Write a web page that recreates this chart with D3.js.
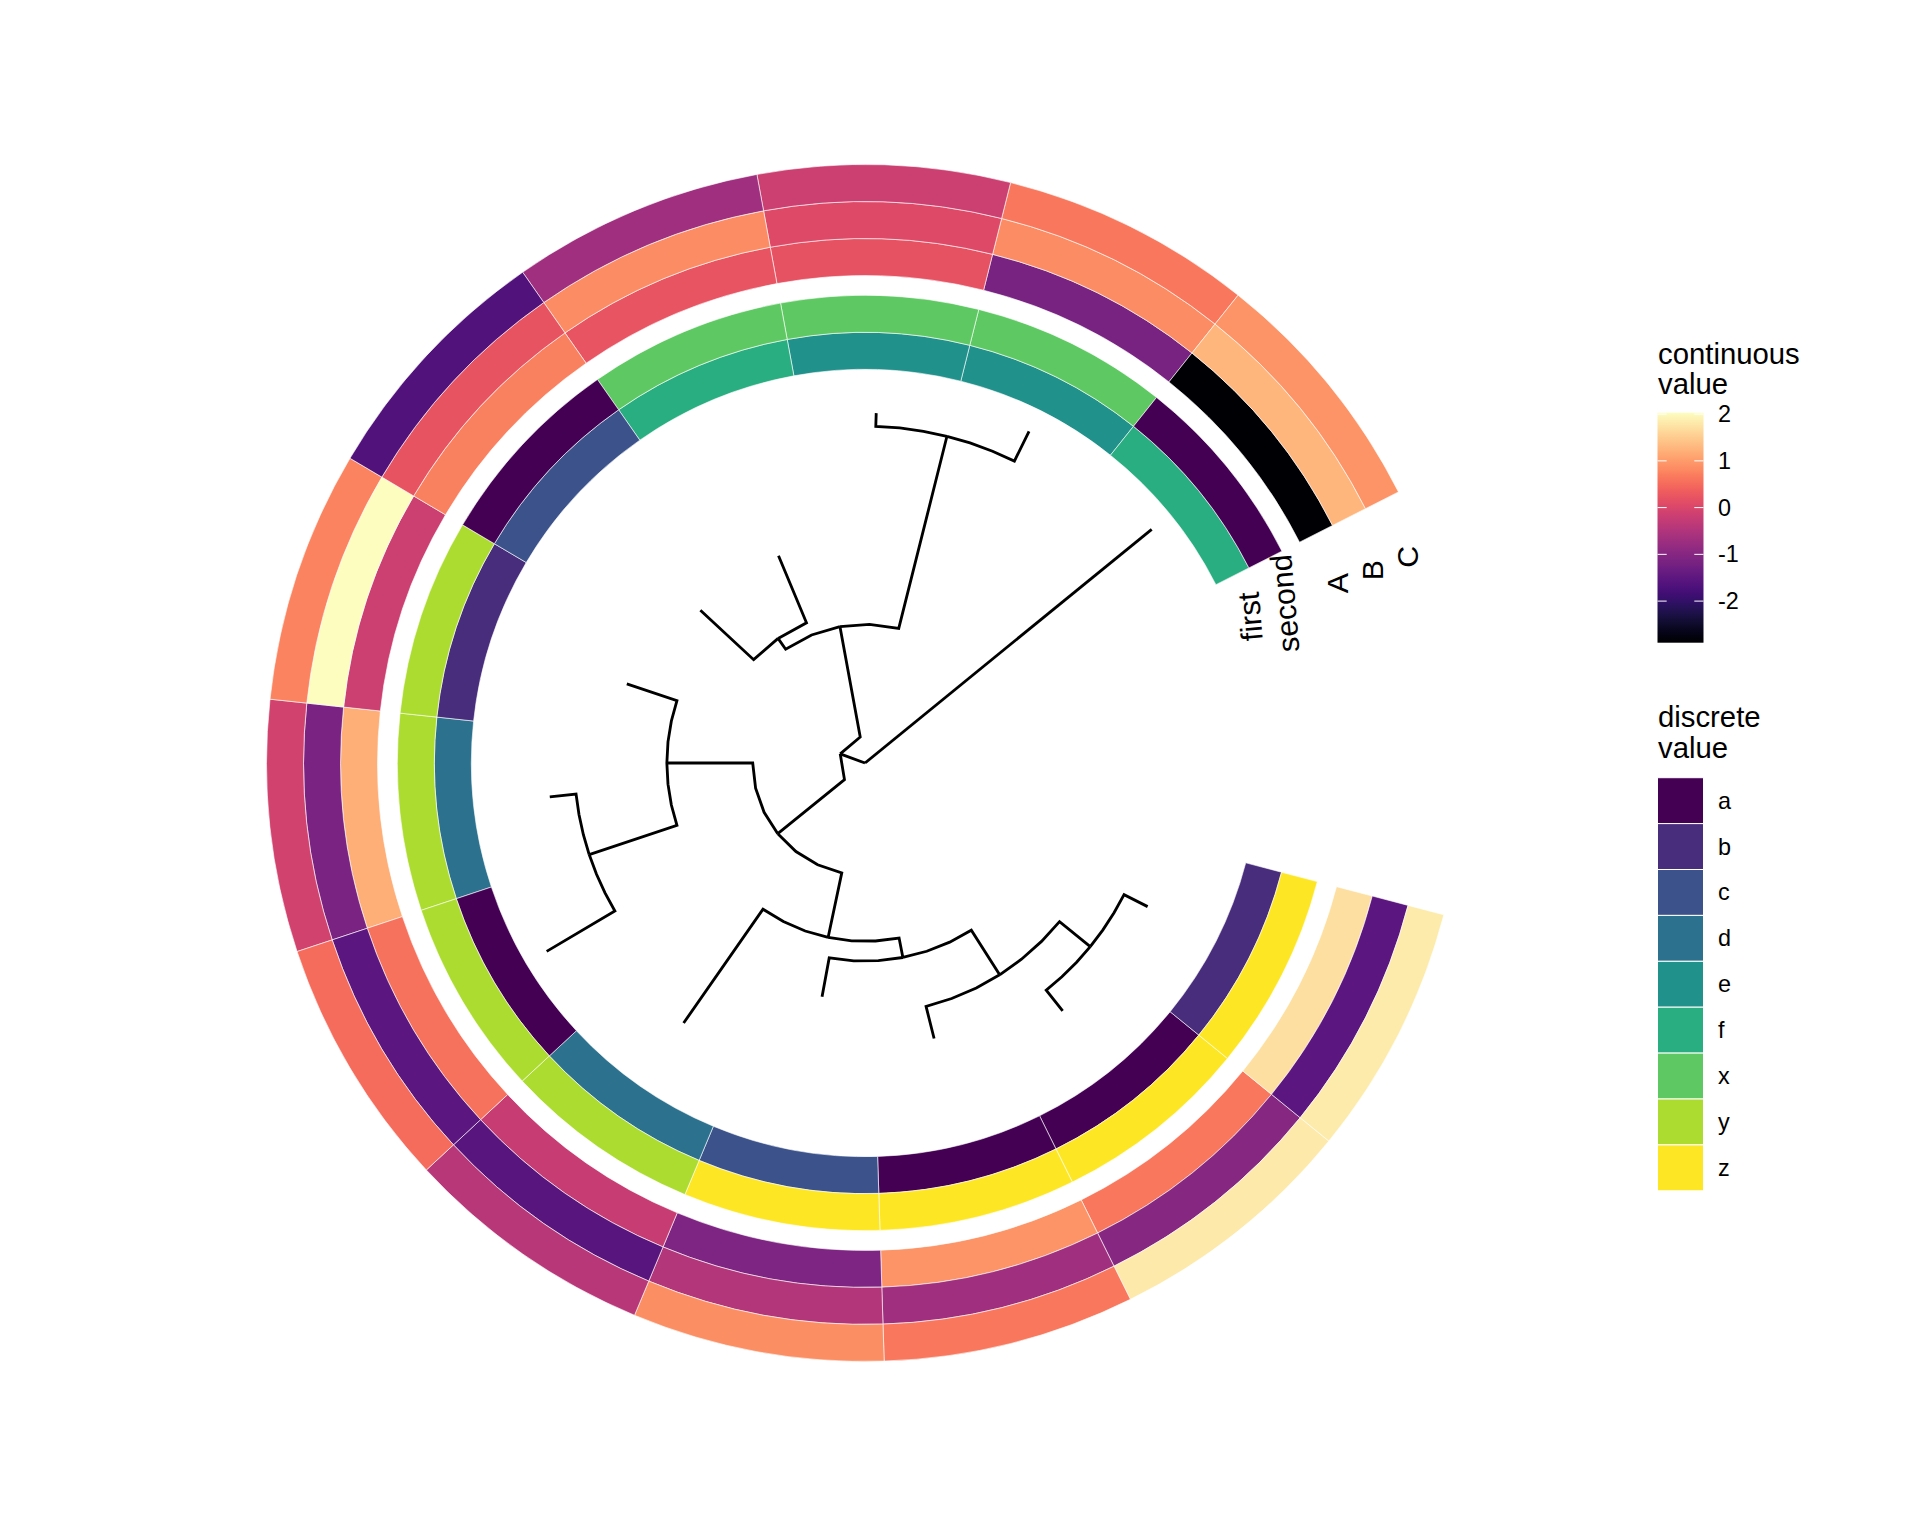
<!DOCTYPE html>
<html>
<head>
<meta charset="utf-8">
<script src="https://cdn.jsdelivr.net/npm/d3@7"></script>
<style>
  html, body { margin: 0; padding: 0; background: #ffffff; }
  svg text { font-family: "Liberation Sans", Arial, Helvetica, sans-serif; fill: #000; }
</style>
</head>
<body>
<svg id="chart" width="1920" height="1536"></svg>
<script>
// ---------------- DATA ----------------
const newick = "(((((((A:4,B:4):6,C:5):8,D:6):3,E:21):10,((F:4,G:12):14,H:8):13):13,((I:5,J:2):30,(K:11,L:11):2):17):4,M:56);";
const tipLabels = ["A","B","C","D","E","F","G","H","I","J","K","L","M"];
const firstCol  = ["a","b","a","c","d","d","a","b","e","e","f","c","f"];
const secondCol = ["z","z","z","z","y","y","y","y","x","x","x","a","a"];
const colA = [0.63, 1.71, 0.92, -1.09, -0.23, 1.19, 0.58, -0.18, -1.17, 0.19, 0.23, 0.73, -2.89];
const colB = [-1.00, -1.51, -0.68, -0.45, -1.56, -1.14, -1.51, 2.03, 0.85, 0.06, 0.85, 0.21, 1.27];
const colC = [1.81, 1.83, 0.63, 0.87, -0.43, -0.09, 0.50, 0.75, 0.63, -0.17, -0.68, -1.66, 0.92];
const discreteNames = ["first", "second"];
const continuousNames = ["A", "B", "C"];
const discreteLevels = ["a","b","c","d","e","f","x","y","z"];
const continuousBreaks = [2, 1, 0, -1, -2];
const discreteTitle = ["discrete", "value"];
const continuousTitle = ["continuous", "value"];

// ---------------- LAYOUT CONSTANTS ----------------
const W = 1920, H = 1536;
const cx = 865, cy = 763;
const outerR = 598.4;
const treeLW = 2.83;

// ---------------- TREE ----------------
function parseNewick(str) {
  let i = 0;
  function node() {
    const n = { children: [], name: "", length: 0 };
    if (str[i] === "(") {
      i++;
      n.children.push(node());
      while (str[i] === ",") { i++; n.children.push(node()); }
      i++;
    }
    let name = "";
    while (i < str.length && !",():;".includes(str[i])) name += str[i++];
    n.name = name;
    if (str[i] === ":") {
      i++;
      let num = "";
      while (i < str.length && !",();".includes(str[i])) num += str[i++];
      n.length = +num;
    }
    return n;
  }
  return node();
}

const root = d3.hierarchy(parseNewick(newick), d => d.children.length ? d.children : null);
root.count();
root.sort((a, b) => a.value - b.value); // ladderize
root.eachBefore(n => { n.bx = n.parent ? n.parent.bx + n.data.length : 0; });
let tipIdx = 0;
root.eachBefore(n => { if (!n.children) n.ty = ++tipIdx; });
root.eachAfter(n => { if (n.children) n.ty = d3.mean(n.children, c => c.ty); });
const nTip = tipIdx;
const tipY = {};
root.leaves().forEach(l => { tipY[l.data.name] = l.ty; });

const maxX = d3.max(root.descendants(), n => n.bx);
// gheatmap geometry
const w1 = 0.2 * maxX / discreteNames.length, start1 = maxX + 0.8;
const w2 = 0.3 * maxX / continuousNames.length, start2 = maxX + 15;
const xMax = start2 + continuousNames.length * w2 + w2 / 2;

const rScale = d3.scaleLinear().domain([0, xMax]).range([0, outerR]);
const thetaScale = d3.scaleLinear().domain([-0.6, nTip + 0.5 + 0.6]).range([0, 2 * Math.PI]);
function pt(x, y) {
  const r = rScale(x), t = thetaScale(y);
  return [cx + r * Math.cos(t), cy - r * Math.sin(t)];
}

const discColor = d3.scaleOrdinal().domain(discreteLevels)
  .range(d3.quantize(d3.interpolateViridis, discreteLevels.length));
const allCont = colA.concat(colB, colC);
const cMin = d3.min(allCont), cMax = d3.max(allCont);
const contColor = d3.scaleSequential(d3.interpolateMagma).domain([cMin, cMax]);

const svg = d3.select("#chart");
svg.append("rect").attr("width", W).attr("height", H).attr("fill", "#fff");

// ---------------- HEATMAP TILES ----------------
const arc = d3.arc();
const tiles = [];
const discCols = [firstCol, secondCol];
discCols.forEach((col, j) => {
  const xc = start1 + (j + 1) * w1;
  tipLabels.forEach((lab, i) => tiles.push({ x0: xc - w1 / 2, x1: xc + w1 / 2, y: tipY[lab], fill: discColor(col[i]) }));
});
const contCols = [colA, colB, colC];
contCols.forEach((col, j) => {
  const xc = start2 + (j + 1) * w2;
  tipLabels.forEach((lab, i) => tiles.push({ x0: xc - w2 / 2, x1: xc + w2 / 2, y: tipY[lab], fill: contColor(col[i]) }));
});
const gTiles = svg.append("g").attr("transform", `translate(${cx},${cy})`);
gTiles.selectAll("path").data(tiles).join("path")
  .attr("d", d => arc({
    innerRadius: rScale(d.x0), outerRadius: rScale(d.x1),
    startAngle: Math.PI / 2 - thetaScale(d.y + 0.5),
    endAngle: Math.PI / 2 - thetaScale(d.y - 0.5)
  }))
  .attr("fill", d => d.fill)
  .attr("stroke", "#fff").attr("stroke-width", 0.6);

// ---------------- TREE EDGES (polar munching like ggplot) ----------------
const spiralMax = 0.5 / (2 * Math.PI) * (2 * Math.PI * Math.sqrt(1 + 4 * Math.PI * Math.PI) + Math.asinh(2 * Math.PI));
const gTree = svg.append("g");
root.descendants().filter(n => n.parent).forEach(n => {
  const p = n.parent;
  const pts = [];
  const dTheta = Math.abs(thetaScale(n.ty) - thetaScale(p.ty));
  const dist = (p.bx / xMax) * dTheta / spiralMax;
  const pieces = Math.max(Math.floor(dist / 0.01), 1);
  for (let k = 0; k <= pieces; k++) {
    pts.push(pt(p.bx, p.ty + (n.ty - p.ty) * k / pieces));
  }
  pts.push(pt(n.bx, n.ty));
  gTree.append("path").attr("d", d3.line()(pts))
    .attr("fill", "none").attr("stroke", "#000")
    .attr("stroke-width", treeLW).attr("stroke-linejoin", "miter").attr("stroke-linecap", "butt");
});

// ---------------- COLUMN LABELS ----------------
const colLabels = [];
discreteNames.forEach((nm, j) => colLabels.push({ name: nm, x: start1 + (j + 1) * w1, angle: 95 }));
continuousNames.forEach((nm, j) => colLabels.push({ name: nm, x: start2 + (j + 1) * w2, angle: 90 }));
svg.append("g").selectAll("text").data(colLabels).join("text")
  .attr("transform", d => { const [px, py] = pt(d.x, 0.25); return `translate(${px},${py}) rotate(${-d.angle})`; })
  .attr("text-anchor", "middle").attr("dominant-baseline", "central")
  .style("font-size", "30.3px")
  .text(d => d.name);

// ---------------- LEGEND: continuous ----------------
const lx = 1657.5, labX = 1718;
const barTop = 412.7, barH = 230, barW = 46;
const gC = svg.append("g");
gC.selectAll("text.title").data(continuousTitle).join("text").attr("class", "title")
  .attr("x", 1658).attr("y", (d, i) => 363.5 + i * 30.9)
  .style("font-size", "29.3px").text(d => d);
const grad = svg.append("defs").append("linearGradient").attr("id", "magmaGrad")
  .attr("x1", 0).attr("y1", 0).attr("x2", 0).attr("y2", 1);
d3.range(0, 101).forEach(k => {
  const t = k / 100;
  grad.append("stop").attr("offset", t).attr("stop-color", contColor(cMax - t * (cMax - cMin)));
});
gC.append("rect").attr("x", lx).attr("y", barTop).attr("width", barW).attr("height", barH)
  .attr("fill", "url(#magmaGrad)");
const barScale = d3.scaleLinear().domain([cMax, cMin]).range([barTop, barTop + barH]);
const brks = continuousBreaks.filter(b => b >= cMin && b <= cMax);
brks.forEach(b => {
  const y = barScale(b);
  gC.append("line").attr("x1", lx).attr("x2", lx + barW / 5).attr("y1", y).attr("y2", y)
    .attr("stroke", "#fff").attr("stroke-width", 1);
  gC.append("line").attr("x1", lx + barW - barW / 5).attr("x2", lx + barW).attr("y1", y).attr("y2", y)
    .attr("stroke", "#fff").attr("stroke-width", 1);
});
gC.selectAll("text.lab").data(brks).join("text").attr("class", "lab")
  .attr("x", labX).attr("y", d => barScale(d))
  .attr("dominant-baseline", "central").style("font-size", "23.4px")
  .text(d => String(d));

// ---------------- LEGEND: discrete ----------------
const gD = svg.append("g");
gD.selectAll("text.title").data(discreteTitle).join("text").attr("class", "title")
  .attr("x", 1658).attr("y", (d, i) => 727 + i * 30.9)
  .style("font-size", "29.3px").text(d => d);
const keyTop = 777.7, keyS = 45.9;
const keyScale = d3.scaleBand().domain(discreteLevels).range([keyTop, keyTop + keyS * discreteLevels.length]);
gD.selectAll("rect").data(discreteLevels).join("rect")
  .attr("x", lx).attr("y", d => keyScale(d)).attr("width", barW).attr("height", keyScale.bandwidth())
  .attr("fill", d => discColor(d)).attr("stroke", "#fff").attr("stroke-width", 1);
gD.selectAll("text.lab").data(discreteLevels).join("text").attr("class", "lab")
  .attr("x", labX).attr("y", d => keyScale(d) + keyScale.bandwidth() / 2)
  .attr("dominant-baseline", "central").style("font-size", "23.4px")
  .text(d => d);
</script>
</body>
</html>
